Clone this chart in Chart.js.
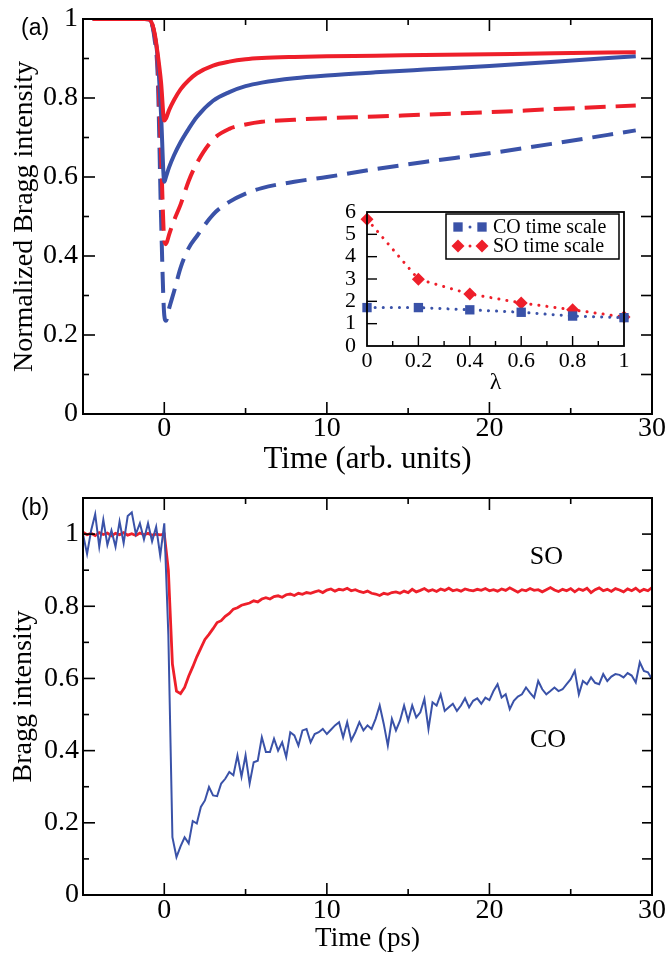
<!DOCTYPE html>
<html>
<head>
<meta charset="utf-8">
<script src="https://cdn.jsdelivr.net/npm/chart.js@4/dist/chart.umd.min.js"></script>
<style>
html,body{margin:0;padding:0;background:#fff;}
body{width:670px;height:959px;position:relative;overflow:hidden;}
.box{position:absolute;}
.plabel{position:absolute;font-family:'Liberation Sans',Arial,sans-serif;font-size:23px;line-height:23px;color:#000;}
</style>
</head>
<body>
<div class="box" style="left:0;top:0;width:670px;height:480px"><canvas id="ca"></canvas></div>
<div class="box" style="left:330px;top:190px;width:304px;height:206px"><canvas id="ci"></canvas></div>
<div class="box" style="left:0;top:480px;width:670px;height:479px"><canvas id="cb"></canvas></div>
<div class="plabel" style="left:21px;top:16px">(a)</div>
<div class="plabel" style="left:21px;top:496px">(b)</div>
<script>
// ---------------- Panel (a): model curves ----------------
const timeA = [-4.4, -1.2, -0.9, -0.6, -0.4, -0.2, 0, 0.1, 0.3, 0.6, 1, 1.5, 2, 3, 4, 5, 6, 8, 10, 13, 16, 20, 24, 29];
const redSolidA  = [1, 1, 0.998, 0.965, 0.91, 0.84, 0.743, 0.748, 0.77, 0.795, 0.822, 0.845, 0.862, 0.882, 0.892, 0.898, 0.901, 0.904, 0.906, 0.907, 0.909, 0.911, 0.913, 0.916];
const blueSolidA = [1, 1, 0.998, 0.96, 0.90, 0.76, 0.588, 0.60, 0.625, 0.655, 0.688, 0.722, 0.752, 0.793, 0.815, 0.83, 0.839, 0.85, 0.857, 0.865, 0.872, 0.881, 0.892, 0.906];
const redDashA   = [1, 1, 0.998, 0.96, 0.88, 0.66, 0.44, 0.43, 0.455, 0.49, 0.53, 0.59, 0.635, 0.695, 0.722, 0.733, 0.740, 0.745, 0.749, 0.753, 0.758, 0.764, 0.772, 0.781];
const blueDashA  = [1, 1, 0.998, 0.95, 0.85, 0.50, 0.25, 0.236, 0.268, 0.31, 0.37, 0.42, 0.45, 0.505, 0.537, 0.558, 0.572, 0.588, 0.600, 0.62, 0.638, 0.66, 0.685, 0.718];
const xTickLabelsA = [0, 10, 20, 30];
const yTickLabelsA = [0, 0.2, 0.4, 0.6, 0.8, 1];
const xMajorA = [0, 10, 20], xMinorA = [5, 15, 25];
const yMajorA = [0.2, 0.4, 0.6, 0.8], yMinorA = [0.1, 0.3, 0.5, 0.7, 0.9];

// ---------------- Inset: time scales vs lambda ----------------
const lambdaI = [0, 0.2, 0.4, 0.6, 0.8, 1];
const coScaleI = [1.72, 1.72, 1.62, 1.51, 1.34, 1.27];
const soScaleI = [5.68, 2.99, 2.33, 1.93, 1.62, 1.30];
const xTickLabelsI = [0, 0.2, 0.4, 0.6, 0.8, 1];
const yTickLabelsI = [0, 1, 2, 3, 4, 5, 6];
const xMajorI = [0.2, 0.4, 0.6, 0.8], xMinorI = [0.1, 0.3, 0.5, 0.7, 0.9];
const yMajorI = [1, 2, 3, 4, 5];

// ---------------- Panel (b): measured Bragg intensity ----------------
const timeStartB = -5, timeStepB = 0.25;   // sampling grid of the measurement (ps)
const coB = [
  1.00, 0.945, 1.01, 1.055,
  0.965, 1.04, 0.97, 1.01,
  0.965, 1.035, 0.975, 1.05,
  1.06, 1.00, 1.03, 0.985,
  1.03, 0.98, 1.02, 0.94,
  1.03, 0.72, 0.16, 0.105,
  0.135, 0.16, 0.143, 0.205,
  0.198, 0.244, 0.262, 0.299,
  0.276, 0.274, 0.309, 0.322,
  0.341, 0.332, 0.387, 0.328,
  0.387, 0.309, 0.368, 0.372,
  0.437, 0.396, 0.396, 0.433,
  0.400, 0.423, 0.382, 0.451,
  0.442, 0.414, 0.456, 0.46,
  0.423, 0.446, 0.451, 0.46,
  0.446, 0.458, 0.47, 0.479,
  0.437, 0.479, 0.428, 0.451,
  0.479, 0.456, 0.47, 0.46,
  0.488, 0.525, 0.474, 0.414,
  0.488, 0.456, 0.483, 0.525,
  0.483, 0.525, 0.492, 0.506,
  0.543, 0.46, 0.534, 0.525,
  0.556, 0.51, 0.52, 0.53,
  0.51, 0.525, 0.545, 0.52,
  0.538, 0.545, 0.53, 0.547,
  0.54, 0.565, 0.584, 0.547,
  0.556, 0.515, 0.538, 0.55,
  0.556, 0.575, 0.56, 0.547,
  0.593, 0.57, 0.556, 0.565,
  0.575, 0.565, 0.57, 0.584,
  0.598, 0.621, 0.556, 0.593,
  0.584, 0.603, 0.588, 0.584,
  0.612, 0.593, 0.605, 0.612,
  0.61, 0.603, 0.615, 0.608,
  0.589, 0.645, 0.621, 0.617,
  0.598
];
const soB = [
  1.005, 0.998, 1.002, 0.996,
  1.004, 0.999, 1.003, 0.995,
  1.002, 0.998, 1.004, 0.997,
  1.001, 0.996, 1.003, 0.998,
  1.002, 0.997, 1.000, 0.998,
  1.000, 0.90, 0.64, 0.565,
  0.558, 0.575, 0.606, 0.632,
  0.66, 0.684, 0.708, 0.722,
  0.738, 0.755, 0.76, 0.772,
  0.78, 0.792, 0.796, 0.803,
  0.806, 0.809, 0.815, 0.812,
  0.82, 0.824, 0.82, 0.827,
  0.829, 0.825, 0.832, 0.834,
  0.83, 0.836, 0.833, 0.838,
  0.836, 0.84, 0.843, 0.838,
  0.845, 0.848, 0.842, 0.847,
  0.845, 0.85, 0.843, 0.846,
  0.841, 0.838, 0.842, 0.836,
  0.834, 0.830, 0.836, 0.833,
  0.838, 0.84, 0.836, 0.842,
  0.838, 0.847, 0.84, 0.844,
  0.849, 0.842, 0.846, 0.841,
  0.848, 0.844, 0.85, 0.843,
  0.846, 0.842, 0.848, 0.845,
  0.843, 0.847, 0.844, 0.849,
  0.843, 0.846, 0.842, 0.848,
  0.844, 0.851, 0.845, 0.839,
  0.846, 0.843, 0.849, 0.844,
  0.846, 0.84, 0.846, 0.852,
  0.845, 0.841, 0.847, 0.843,
  0.849, 0.84, 0.848, 0.844,
  0.85, 0.838, 0.846, 0.851,
  0.843, 0.847, 0.841, 0.849,
  0.845, 0.84, 0.848, 0.843,
  0.85, 0.841, 0.847, 0.843,
  0.852
];
const xTickLabelsB = [0, 10, 20, 30];
const yTickLabelsB = [0, 0.2, 0.4, 0.6, 0.8, 1];
const xMajorB = [0, 10, 20], xMinorB = [5, 15, 25];
const yMajorB = [0.2, 0.4, 0.6, 0.8, 1.0], yMinorB = [0.1, 0.3, 0.5, 0.7, 0.9];

// ---------------- styling ----------------
const RED = '#ee1f2a';
const BLUE = '#3a52a8';
const SERIF = "'Liberation Serif', 'Times New Roman', serif";
Chart.defaults.font.family = SERIF;
Chart.defaults.color = '#000';
const F = (size) => ({family: SERIF, size, lineHeight: 1, weight: 'normal'});

const framePlugin = {
  id: 'frameTicks',
  afterDatasetsDraw(chart, args, o) {
    const {ctx, chartArea: a} = chart;
    const xs = chart.scales.x, ys = chart.scales.y;
    ctx.save();
    ctx.strokeStyle = '#000';
    ctx.setLineDash([]);
    ctx.lineWidth = o.lineWidth;
    ctx.strokeRect(a.left, a.top, a.right - a.left, a.bottom - a.top);
    ctx.lineWidth = o.tickWidth;
    const seg = (x1, y1, x2, y2) => { ctx.beginPath(); ctx.moveTo(x1, y1); ctx.lineTo(x2, y2); ctx.stroke(); };
    [[o.xMajor, o.major], [o.xMinor, o.minor]].forEach(([vals, len]) => (vals || []).forEach(v => {
      const p = xs.getPixelForValue(v);
      if (o.bottom) seg(p, a.bottom, p, a.bottom - len);
      if (o.top) seg(p, a.top, p, a.top + len);
    }));
    [[o.yMajor, o.major, o.rightMajor], [o.yMinor, o.minor, o.rightMinor]].forEach(([vals, len, rlen]) => (vals || []).forEach(v => {
      const p = ys.getPixelForValue(v);
      if (o.left) seg(a.left, p, a.left + len, p);
      if (o.right) seg(a.right, p, a.right - rlen, p);
    }));
    ctx.restore();
  }
};

function marker(ctx, style, x, y, r) {
  ctx.beginPath();
  if (style === 'rect') {
    const s = r * Math.SQRT1_2;
    ctx.rect(x - s, y - s, 2 * s, 2 * s);
  } else {
    ctx.moveTo(x - r, y); ctx.lineTo(x, y - r); ctx.lineTo(x + r, y); ctx.lineTo(x, y + r); ctx.closePath();
  }
  ctx.fill();
}

const insetLegend = {
  id: 'insetLegend',
  afterDraw(chart) {
    const {ctx} = chart;
    ctx.save();
    ctx.fillStyle = '#fff';
    ctx.fillRect(116, 24, 173, 45);
    ctx.strokeStyle = '#000';
    ctx.lineWidth = 1.5;
    ctx.strokeRect(116, 24, 173, 45);
    chart.data.datasets.forEach((ds, i) => {
      const yy = 37 + i * 19;
      ctx.fillStyle = ds.borderColor;
      marker(ctx, ds.pointStyle, 128, yy, ds.pointRadius);
      marker(ctx, ds.pointStyle, 152, yy, ds.pointRadius);
      ctx.beginPath(); ctx.arc(140, yy, 1.5, 0, Math.PI * 2); ctx.fill();
      ctx.fillStyle = '#000';
      ctx.font = '20px ' + SERIF;
      ctx.textBaseline = 'middle';
      ctx.textAlign = 'left';
      ctx.fillText(ds.label, 163, yy + 1);
    });
    ctx.restore();
  }
};

function fixedTicks(list) { return s => { s.ticks = list.map(v => ({value: v})); }; }

// ---------------- Chart (a) ----------------
const lineA = (label, data, color, dashed) => ({
  label, data: timeA.map((t, i) => ({x: t, y: data[i]})),
  borderColor: color, borderWidth: 4, borderDash: dashed ? [21, 10] : [],
  pointRadius: 0, cubicInterpolationMode: 'monotone', fill: false
});
new Chart(document.getElementById('ca'), {
  type: 'line',
  data: { datasets: [
    lineA('SO (λ=1)', redSolidA, RED, false),
    lineA('CO (λ=1)', blueSolidA, BLUE, false),
    lineA('SO (λ=0)', redDashA, RED, true),
    lineA('CO (λ=0)', blueDashA, BLUE, true)
  ]},
  options: {
    responsive: true, maintainAspectRatio: false, animation: false, events: [],
    layout: { padding: {left: 0, right: 18, top: 16, bottom: 0} },
    plugins: {
      legend: {display: false}, tooltip: {enabled: false},
      frameTicks: {lineWidth: 2, tickWidth: 1.6, major: 12, minor: 6, rightMajor: 11, rightMinor: 11,
        xMajor: xMajorA, xMinor: xMinorA, yMajor: yMajorA, yMinor: yMinorA,
        left: true, right: true, top: true, bottom: true}
    },
    scales: {
      x: { type: 'linear', min: -5, max: 30,
        afterBuildTicks: fixedTicks(xTickLabelsA), afterFit: s => { s.height = 66; },
        grid: {display: false, drawTicks: false}, border: {display: false},
        ticks: {font: F(28), padding: 1, maxRotation: 0, autoSkip: false, callback: v => String(v)},
        title: {display: true, text: 'Time (arb. units)', font: F(31), padding: {top: 0, bottom: 5}} },
      y: { type: 'linear', min: 0, max: 1,
        afterBuildTicks: fixedTicks(yTickLabelsA), afterFit: s => { s.width = 83; },
        grid: {display: false, drawTicks: false}, border: {display: false},
        ticks: {font: F(28), padding: 5, autoSkip: false, callback: v => String(v)},
        title: {display: true, text: 'Normalized Bragg intensity', font: F(28), padding: {top: 11, bottom: 0}} }
    }
  },
  plugins: [framePlugin]
});

// ---------------- Inset ----------------
new Chart(document.getElementById('ci'), {
  type: 'line',
  data: { datasets: [
    { label: 'CO time scale', data: lambdaI.map((l, i) => ({x: l, y: coScaleI[i]})),
      borderColor: BLUE, backgroundColor: BLUE, borderWidth: 3, borderDash: [0.1, 8], borderCapStyle: 'round',
      pointStyle: 'rect', pointRadius: 6.6, pointBorderWidth: 0, pointBackgroundColor: BLUE, clip: false },
    { label: 'SO time scale', data: lambdaI.map((l, i) => ({x: l, y: soScaleI[i]})),
      borderColor: RED, backgroundColor: RED, borderWidth: 3, borderDash: [0.1, 8], borderCapStyle: 'round',
      pointStyle: 'rectRot', pointRadius: 6.5, pointBorderWidth: 0, pointBackgroundColor: RED, clip: false }
  ]},
  options: {
    responsive: true, maintainAspectRatio: false, animation: false, events: [],
    layout: { padding: {left: 0, right: 10, top: 14, bottom: 0} },
    plugins: {
      legend: {display: false}, tooltip: {enabled: false},
      frameTicks: {lineWidth: 1.8, tickWidth: 1.4, major: 10, minor: 5, rightMajor: 0, rightMinor: 0,
        xMajor: xMajorI, xMinor: xMinorI, yMajor: yMajorI, yMinor: [],
        left: true, right: false, top: false, bottom: true}
    },
    scales: {
      x: { type: 'linear', min: 0, max: 1,
        afterBuildTicks: fixedTicks(xTickLabelsI), afterFit: s => { s.height = 50; },
        grid: {display: false, drawTicks: false}, border: {display: false},
        ticks: {font: F(22), padding: 4, maxRotation: 0, autoSkip: false, callback: v => String(v)},
        title: {display: true, text: 'λ', font: F(24), padding: {top: 0, bottom: 1}} },
      y: { type: 'linear', min: 0, max: 6,
        afterBuildTicks: fixedTicks(yTickLabelsI), afterFit: s => { s.width = 37; },
        grid: {display: false, drawTicks: false}, border: {display: false},
        ticks: {font: F(22), padding: 11, autoSkip: false, callback: v => String(v)} }
    }
  },
  plugins: [framePlugin, insetLegend]
});

// ---------------- Chart (b) ----------------
const ptsB = arr => arr.map((v, i) => ({x: timeStartB + i * timeStepB, y: v}));
new Chart(document.getElementById('cb'), {
  type: 'line',
  data: { datasets: [
    { label: 'CO', data: ptsB(coB), borderColor: BLUE, borderWidth: 2, pointRadius: 0, tension: 0, fill: false },
    { label: 'SO', data: ptsB(soB), borderColor: RED, borderWidth: 2.8, pointRadius: 0, tension: 0, fill: false }
  ]},
  options: {
    responsive: true, maintainAspectRatio: false, animation: false, events: [],
    layout: { padding: {left: 0, right: 18, top: 17, bottom: 0} },
    plugins: {
      legend: {display: false}, tooltip: {enabled: false},
      frameTicks: {lineWidth: 2, tickWidth: 1.6, major: 12, minor: 6, rightMajor: 10, rightMinor: 10,
        xMajor: xMajorB, xMinor: xMinorB, yMajor: yMajorB, yMinor: yMinorB,
        left: true, right: true, top: true, bottom: true}
    },
    scales: {
      x: { type: 'linear', min: -5, max: 30,
        afterBuildTicks: fixedTicks(xTickLabelsB), afterFit: s => { s.height = 64; },
        grid: {display: false, drawTicks: false}, border: {display: false},
        ticks: {font: F(28), padding: 2, maxRotation: 0, autoSkip: false, callback: v => String(v)},
        title: {display: true, text: 'Time (ps)', font: F(27), padding: {top: 0, bottom: 7}} },
      y: { type: 'linear', min: 0, max: 1.1,
        afterBuildTicks: fixedTicks(yTickLabelsB), afterFit: s => { s.width = 83; },
        grid: {display: false, drawTicks: false}, border: {display: false},
        ticks: {font: F(28), padding: 4, autoSkip: false, callback: v => String(v)},
        title: {display: true, text: 'Bragg intensity', font: F(28), padding: {top: 10, bottom: 0}} }
    }
  },
  plugins: [framePlugin, {
    id: 'seriesNames',
    afterDatasetsDraw(chart) {
      const {ctx, scales: {x, y}} = chart;
      ctx.save();
      ctx.fillStyle = '#000';
      ctx.font = '26px ' + SERIF;
      ctx.textAlign = 'center';
      ctx.textBaseline = 'middle';
      ctx.fillText('SO', x.getPixelForValue(23.5), y.getPixelForValue(0.935));
      ctx.fillText('CO', x.getPixelForValue(23.6), y.getPixelForValue(0.43));
      ctx.restore();
    }
  }]
});
</script>
</body>
</html>
